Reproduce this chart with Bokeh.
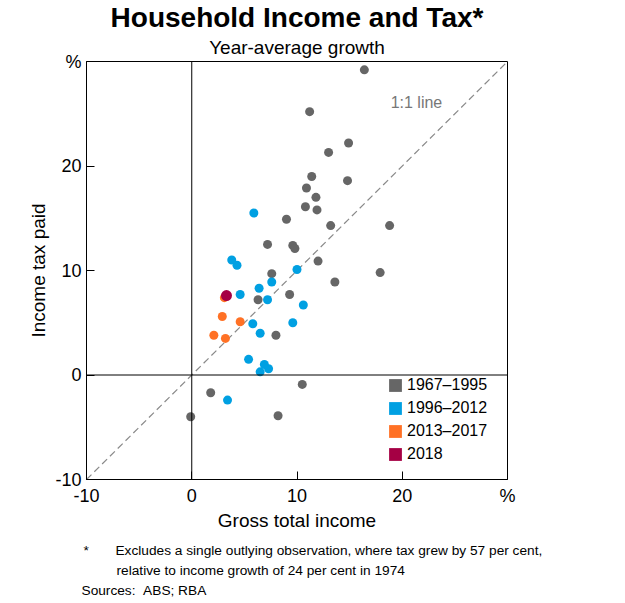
from bokeh.plotting import figure
from bokeh.models import (FixedTicker, Span, Label, Legend, LegendItem, Title)
from bokeh.embed import file_html
from bokeh.resources import INLINE

# ---- data ----
gray_x = [16.4, 11.2, 14.9, 13.0, 11.4, 14.8, 10.9, 11.8, 10.8, 11.9, 9.0, 13.2, 18.8,
          7.2, 9.6, 9.8, 12.0, 17.9, 7.6, 13.6, 9.3, 6.3, 8.0, 10.5, 1.8, -0.1, 8.2]
gray_y = [29.2, 25.2, 22.2, 21.3, 19.0, 18.6, 17.9, 17.0, 16.1, 15.8, 14.9, 14.3, 14.3,
          12.5, 12.4, 12.1, 10.9, 9.8, 9.7, 8.9, 7.7, 7.2, 3.8, -0.9, -1.7, -4.0, -3.9]
blue_x = [5.9, 3.8, 4.3, 10.0, 7.6, 6.4, 4.6, 7.2, 10.6, 5.8, 9.6, 6.5, 5.4, 6.9, 7.3, 6.5, 3.4]
blue_y = [15.5, 11.0, 10.5, 10.1, 8.9, 8.3, 7.7, 7.2, 6.7, 4.9, 5.0, 4.0, 1.5, 1.0, 0.6, 0.3, -2.4]
orange_x = [3.1, 2.9, 4.6, 2.1, 3.2]
orange_y = [7.4, 5.6, 5.1, 3.8, 3.5]
maroon_x = [3.3]
maroon_y = [7.6]
line_xy = [-10, 30]
x_ticks = [-10, 0, 10, 20, 30]
y_ticks = [-10, 0, 10, 20, 30]
series_labels = ["1967\u20131995", "1996\u20132012", "2013\u20132017", "2018"]

GRAY = "#666666"
BLUE = "#00A0E2"
ORANGE = "#FF7125"
MAROON = "#A50044"
FONT = "Liberation Sans"
NAN = float("nan")
NB = "\u00a0"

W, H = 625, 603
FL, FB = 86, 479  # frame left / bottom in page pixels
p = figure(width=W, height=H, x_range=(-10, 30), y_range=(-10, 30), title=None,
           output_backend="svg", toolbar_location=None,
           min_border_left=FL, min_border_right=W - 507, min_border_top=60,
           min_border_bottom=H - FB)
p.grid.visible = False
p.outline_line_color = "black"
p.outline_line_width = 1
p.background_fill_color = "white"
p.border_fill_color = "white"

for ax in (p.xaxis[0], p.yaxis[0]):
    ax.major_tick_in = 8
    ax.major_tick_out = 0
    ax.minor_tick_line_color = None
    ax.axis_line_color = "black"
    ax.major_tick_line_color = "black"
    ax.major_label_text_font = FONT
    ax.major_label_text_font_size = "18px"
    ax.major_label_text_color = "black"
    ax.axis_label_text_font = FONT
    ax.axis_label_text_font_size = "19px"
    ax.axis_label_text_font_style = "normal"
    ax.axis_label_text_color = "black"
p.xaxis[0].ticker = FixedTicker(ticks=x_ticks)
p.xaxis[0].major_label_overrides = {-10: "-10", 30: "%"}
p.xaxis[0].major_label_standoff = 6
p.xaxis[0].axis_label = "Gross total income"
p.xaxis[0].axis_label_standoff = 1
p.yaxis[0].ticker = FixedTicker(ticks=y_ticks)
p.yaxis[0].major_label_overrides = {-10: "-10", 30: "%"}
p.yaxis[0].major_label_standoff = 5
p.yaxis[0].axis_label = "Income tax paid"
p.yaxis[0].axis_label_standoff = 3

p.add_layout(Span(location=0, dimension="width", line_color="black", line_width=1))
p.add_layout(Span(location=0, dimension="height", line_color="black", line_width=1))

p.line(line_xy, line_xy, line_color="#8a8a8a", line_width=1.2, line_dash="7 4")

p.scatter(gray_x, gray_y, size=9, fill_color=GRAY, line_color=None)
p.scatter(blue_x, blue_y, size=9, fill_color=BLUE, line_color=None)
p.scatter(orange_x, orange_y, size=9, fill_color=ORANGE, line_color=None)
p.scatter(maroon_x, maroon_y, size=11, fill_color=MAROON, line_color=None)

# legend with square swatches (placeholder quads carry no data)
items = []
for lab, col in zip(series_labels, [GRAY, BLUE, ORANGE, MAROON]):
    r = p.quad(left=[NAN], right=[NAN], top=[NAN], bottom=[NAN], fill_color=col, line_color=None)
    items.append(LegendItem(label=lab, renderers=[r]))
leg = Legend(items=items, location=(296, 11), padding=5, margin=0, spacing=5,
             glyph_width=16, glyph_height=16, label_height=16, label_standoff=4,
             label_text_font=FONT, label_text_font_size="16px", label_text_color="black",
             border_line_alpha=0, background_fill_alpha=0)
p.add_layout(leg, "center")

p.add_layout(Label(x=18.9, y=26.1, text="1:1 line", text_font=FONT, text_font_size="16px",
                   text_color="#777777", text_align="left", text_baseline="middle"))


def title(text, where, size, align="center", bold=False, offset=0, standoff=0):
    p.add_layout(Title(text=text, text_font=FONT, text_font_size=size, align=align,
                       text_font_style="bold" if bold else "normal", text_color="black",
                       offset=offset, standoff=standoff), where)


# above: first added sits closest to the frame
title("Year-average growth", "above", "19px", standoff=7)
title("Household Income and Tax*", "above", "28px", bold=True, standoff=-2)
# below: after the axis, outward
title("*" + NB * 7 + "Excludes a single outlying observation, where tax grew by 57 per cent,",
      "below", "13.7px", align="left", offset=-3, standoff=14)
title("relative to income growth of 24 per cent in 1974", "below", "13.7px", align="left",
      offset=30, standoff=-7)
title("Sources:" + NB * 2 + "ABS; RBA", "below", "13.7px", align="left", offset=-5, standoff=12)

open("out.html", "w").write(file_html(p, INLINE))
